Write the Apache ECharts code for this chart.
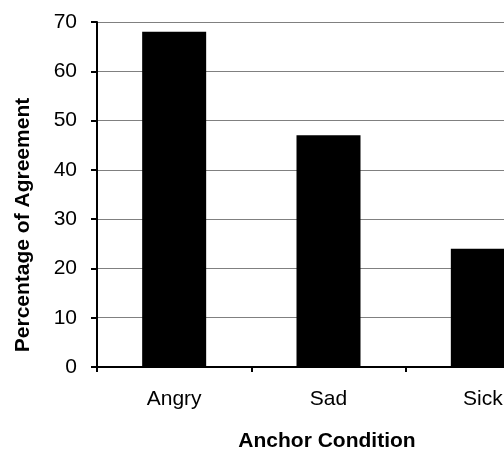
<!DOCTYPE html>
<html>
<head>
<meta charset="utf-8">
<script src="https://cdn.jsdelivr.net/npm/echarts@6/dist/echarts.min.js"></script>
<style>html,body{margin:0;padding:0;background:#fff;overflow:hidden;width:504px;height:451px;}#c{width:560px;height:451px;}</style>
</head>
<body>
<div id="c"></div>
<script>
const categories = ['Angry', 'Sad', 'Sick'];
const agreement = [68, 47, 24];
const yTicks = { min: 0, max: 70, interval: 10 };
const yTitle = 'Percentage of Agreement';
const xTitle = 'Anchor Condition';

const chart = echarts.init(document.getElementById('c'), null, { renderer: 'canvas' });
const font = '"Liberation Sans", Arial, sans-serif';
chart.setOption({
  animation: false,
  backgroundColor: '#ffffff',
  grid: { left: 97, top: 22, bottom: 84, right: 0, containLabel: false },
  xAxis: {
    type: 'category',
    data: categories,
    axisLine: { show: true, lineStyle: { color: '#000', width: 2 } },
    axisTick: { show: true, alignWithLabel: false, length: 5, lineStyle: { color: '#000', width: 2 } },
    axisLabel: { color: '#000', fontSize: 21, fontFamily: font, margin: 22 },
    splitLine: { show: false }
  },
  yAxis: {
    type: 'value',
    min: yTicks.min, max: yTicks.max, interval: yTicks.interval,
    axisLine: { show: true, lineStyle: { color: '#000', width: 2 } },
    axisTick: { show: true, length: 6, lineStyle: { color: '#000', width: 2 } },
    axisLabel: { color: '#000', fontSize: 21, fontFamily: font, margin: 20 },
    splitLine: { show: true, lineStyle: { color: '#808080', width: 1 } }
  },
  series: [{
    type: 'bar',
    data: agreement,
    barWidth: 64,
    itemStyle: { color: '#000' }
  }],
  graphic: [
    {
      type: 'text', x: 23, y: 225, rotation: Math.PI / 2,
      style: { text: yTitle, fontSize: 21, fontWeight: 'bold', fontFamily: font, fill: '#000', align: 'center', verticalAlign: 'middle' }
    },
    {
      type: 'text', x: 327, y: 441,
      style: { text: xTitle, fontSize: 21, fontWeight: 'bold', fontFamily: font, fill: '#000', align: 'center', verticalAlign: 'middle' }
    }
  ]
});
</script>
</body>
</html>
